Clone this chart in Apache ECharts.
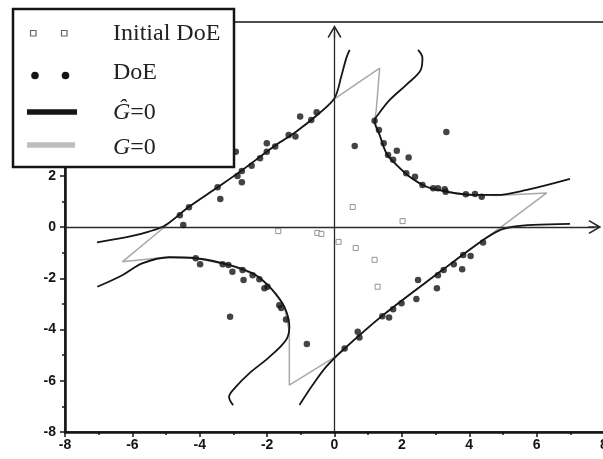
<!DOCTYPE html>
<html>
<head>
<meta charset="utf-8">
<script src="https://cdn.jsdelivr.net/npm/echarts@6/dist/echarts.min.js"></script>
<style>
  html, body { margin: 0; padding: 0; background: #fff; }
  #chart { width: 603px; height: 459px; }
</style>
</head>
<body>
<div id="chart"></div>
<script>
// Initial design of experiments (hollow squares)
const initialDoE = [
  [-1.67, -0.16], [-0.51, -0.23], [-0.39, -0.27], [0.12, -0.58], [0.54, 0.78],
  [0.63, -0.82], [1.19, -1.28], [1.28, -2.33], [2.02, 0.23]
];

// Enriched design of experiments (filled dots)
const doe = [
  [-2.93, 2.94], [-4.49, 0.08], [-4.59, 0.46], [-4.32, 0.77], [-3.39, 1.09],
  [-3.47, 1.55], [-2.88, 1.99], [-2.75, 1.75], [-2.75, 2.19], [-2.46, 2.39],
  [-2.21, 2.68], [-2.01, 3.27], [-2.01, 2.94], [-1.76, 3.14], [-1.36, 3.59],
  [-1.16, 3.53], [-1.02, 4.31], [-0.69, 4.18], [-0.53, 4.48],
  [1.19, 4.15], [1.32, 3.79], [1.46, 3.27], [1.59, 2.81], [1.74, 2.62],
  [1.85, 2.98], [2.20, 2.71], [2.13, 2.10], [2.39, 1.96], [2.61, 1.64],
  [2.93, 1.51], [3.07, 1.51], [3.27, 1.47], [3.30, 1.38], [3.90, 1.28],
  [4.17, 1.29], [4.37, 1.18], [3.32, 3.71], [0.60, 3.16],
  [-4.12, -1.22], [-3.99, -1.45], [-3.32, -1.45], [-3.15, -1.48], [-3.03, -1.75],
  [-2.73, -1.68], [-2.70, -2.07], [-2.43, -1.88], [-2.23, -2.04], [-2.08, -2.39],
  [-1.99, -2.33], [-1.64, -3.05], [-1.58, -3.16], [-1.44, -3.61], [-3.10, -3.50],
  [-0.82, -4.57],
  [0.30, -4.74], [0.69, -4.09], [0.74, -4.31], [1.42, -3.48], [1.62, -3.53],
  [1.74, -3.21], [1.99, -2.98], [2.43, -2.81], [2.48, -2.07], [3.04, -2.39],
  [3.07, -1.88], [3.24, -1.68], [3.54, -1.45], [3.79, -1.65], [3.82, -1.09],
  [4.04, -1.13], [4.41, -0.60]
];

// Metamodel limit state G^ = 0, four branches
const gHatUpperLeft = [
  [-7.05, -0.60], [-6.10, -0.38], [-5.51, -0.18], [-5.01, 0.08], [-4.32, 0.79],
  [-3.47, 1.55], [-2.73, 2.23], [-1.74, 3.20], [-1.14, 3.72], [-0.45, 4.44],
  [0.00, 5.03], [0.20, 5.87], [0.35, 6.59], [0.45, 6.91]
];
const gHatUpperRight = [
  [2.48, 6.91], [2.61, 6.60], [2.56, 6.13], [2.13, 5.55], [1.64, 4.96],
  [1.29, 4.38], [1.19, 4.15], [1.34, 3.59], [1.54, 2.88], [1.84, 2.42],
  [2.23, 1.96], [2.73, 1.57], [3.32, 1.38], [4.12, 1.25], [4.81, 1.25],
  [5.71, 1.45], [6.99, 1.88]
];
const gHatLowerRight = [
  [-1.04, -6.95], [-0.65, -6.17], [-0.25, -5.46], [0.25, -4.80], [1.44, -3.44],
  [3.13, -1.75], [4.41, -0.51], [4.91, -0.12], [5.31, 0.01], [5.90, 0.08],
  [6.99, 0.12]
];
const gHatLowerLeft = [
  [-7.04, -2.33], [-6.30, -1.88], [-5.71, -1.42], [-4.91, -1.18], [-4.12, -1.22],
  [-3.13, -1.48], [-2.33, -1.88], [-1.84, -2.46], [-1.49, -3.11], [-1.34, -3.89],
  [-1.44, -4.41], [-1.93, -5.07], [-2.53, -5.71], [-2.93, -6.24], [-3.13, -6.63],
  [-3.01, -6.95]
];

// True limit state G = 0 (closed contour)
const gTrue = [
  [-6.30, -1.36], [-5.01, 0.04], [-4.32, 0.79], [-3.47, 1.55], [-2.73, 2.23],
  [-1.74, 3.20], [-1.14, 3.72], [-0.45, 4.44], [0.00, 5.00], [1.34, 6.20],
  [1.24, 4.57], [1.19, 4.15], [1.34, 3.59], [1.54, 2.88], [1.84, 2.42],
  [2.23, 1.96], [2.73, 1.57], [3.32, 1.38], [4.12, 1.25], [4.81, 1.23],
  [6.30, 1.33], [4.88, -0.06], [4.41, -0.51], [3.13, -1.75], [1.44, -3.44],
  [0.25, -4.80], [0.00, -5.08], [-1.34, -6.17], [-1.34, -4.10], [-1.49, -3.11],
  [-1.84, -2.46], [-2.33, -1.88], [-3.13, -1.48], [-4.12, -1.22], [-4.91, -1.18],
  [-5.36, -1.23], [-6.30, -1.36]
];

const axisRange = { min: -8, max: 8, step: 2 };

// Open arrow head with a short stem, tip pointing up
const arrowHead = 'path://M0,0 L7,12 L5.7,12.9 L0,3.3 L-5.7,12.9 L-7,12 Z M-0.65,1 L0.65,1 L0.65,13 L-0.65,13 Z';

const ink = '#151515';
const tickFont = { color: ink, fontFamily: 'Liberation Sans', fontWeight: 'bold', fontSize: 14 };

function valueAxis(extra) {
  return Object.assign({
    type: 'value',
    min: axisRange.min,
    max: axisRange.max,
    interval: axisRange.step,
    axisLine: { show: true, onZero: false, lineStyle: { color: ink, width: 2.5 } },
    axisTick: { show: true, inside: false, length: 5, lineStyle: { color: ink, width: 1.5 } },
    minorTick: { show: true, splitNumber: 2, length: 3, lineStyle: { color: ink, width: 1.5 } },
    splitLine: { show: false },
    minorSplitLine: { show: false }
  }, extra);
}

const chart = echarts.init(document.getElementById('chart'), null, { renderer: 'canvas' });

const curveStyle = { color: ink, width: 1.8 };
function gHatSeries(data) {
  return {
    type: 'line', data: data, smooth: 0.35, showSymbol: false, silent: true,
    lineStyle: curveStyle, z: 3
  };
}

chart.setOption({
  animation: false,
  backgroundColor: '#fff',
  grid: {
    left: 65, right: -1, top: 22, bottom: 27,
    outerBoundsMode: 'none',
    containLabel: false,
    show: true, borderColor: ink, borderWidth: 1.5, backgroundColor: 'transparent'
  },
  xAxis: valueAxis({
    position: 'bottom',
    axisLabel: Object.assign({ margin: 6 }, tickFont)
  }),
  yAxis: valueAxis({
    position: 'left',
    axisLabel: Object.assign({ margin: 9 }, tickFont)
  }),
  series: [
    {
      name: 'G=0', type: 'line', data: gTrue, smooth: false, showSymbol: false, silent: true,
      lineStyle: { color: '#a8a8a8', width: 1.5 }, z: 2
    },
    gHatSeries(gHatUpperLeft),
    gHatSeries(gHatUpperRight),
    gHatSeries(gHatLowerRight),
    gHatSeries(gHatLowerLeft),
    {
      name: 'DoE', type: 'scatter', data: doe, symbol: 'circle', symbolSize: 6.5,
      itemStyle: { color: ink }, z: 5, silent: true
    },
    {
      name: 'Initial DoE', type: 'scatter', data: initialDoE, symbol: 'rect', symbolSize: 5,
      itemStyle: { color: '#fff', borderColor: '#7a7a7a', borderWidth: 1 }, z: 5, silent: true,
      markLine: {
        silent: true,
        animation: false,
        symbol: ['none', arrowHead],
        symbolSize: [14, 13],
        label: { show: false },
        lineStyle: { color: '#2a2a2a', width: 1.3, type: 'solid' },
        emphasis: { disabled: true },
        data: [
          [{ coord: [0, -8] }, { coord: [0, 7.63] }],
          [{ coord: [-8, 0] }, { coord: [7.73, 0] }]
        ]
      }
    }
  ],
  graphic: [
    {
      type: 'rect', z: 100,
      shape: { x: 13, y: 9, width: 221, height: 158 },
      style: { fill: '#fff', stroke: ink, lineWidth: 2.5 }
    },
    { type: 'rect', z: 101, shape: { x: 30.5, y: 30.5, width: 5.5, height: 5.5 },
      style: { fill: '#fff', stroke: '#666', lineWidth: 1.2 } },
    { type: 'rect', z: 101, shape: { x: 61.5, y: 30.5, width: 5.5, height: 5.5 },
      style: { fill: '#fff', stroke: '#666', lineWidth: 1.2 } },
    { type: 'circle', z: 101, shape: { cx: 35, cy: 75.5, r: 3.8 }, style: { fill: ink } },
    { type: 'circle', z: 101, shape: { cx: 65.5, cy: 75.5, r: 3.8 }, style: { fill: ink } },
    { type: 'line', z: 101, shape: { x1: 27, y1: 112, x2: 77, y2: 112 },
      style: { stroke: ink, lineWidth: 5.5 } },
    { type: 'line', z: 101, shape: { x1: 27, y1: 145, x2: 75, y2: 145 },
      style: { stroke: '#bdbdbd', lineWidth: 5.5 } },
    { type: 'text', z: 101, x: 113, y: 34,
      style: { text: 'Initial DoE', fill: '#222', font: '24px "Liberation Serif"', verticalAlign: 'middle' } },
    { type: 'text', z: 101, x: 113, y: 73,
      style: { text: 'DoE', fill: '#222', font: '24px "Liberation Serif"', verticalAlign: 'middle' } },
    { type: 'text', z: 101, x: 113, y: 113,
      style: {
        text: '{i|Ĝ}{n|=0}', fill: '#222', verticalAlign: 'middle',
        rich: {
          i: { fontFamily: 'Liberation Serif', fontSize: 24, fontStyle: 'italic', fill: '#222' },
          n: { fontFamily: 'Liberation Serif', fontSize: 24, fill: '#222' }
        }
      } },
    { type: 'text', z: 101, x: 113, y: 148,
      style: {
        text: '{i|G}{n|=0}', fill: '#222', verticalAlign: 'middle',
        rich: {
          i: { fontFamily: 'Liberation Serif', fontSize: 24, fontStyle: 'italic', fill: '#222' },
          n: { fontFamily: 'Liberation Serif', fontSize: 24, fill: '#222' }
        }
      } }
  ]
});
</script>
</body>
</html>
